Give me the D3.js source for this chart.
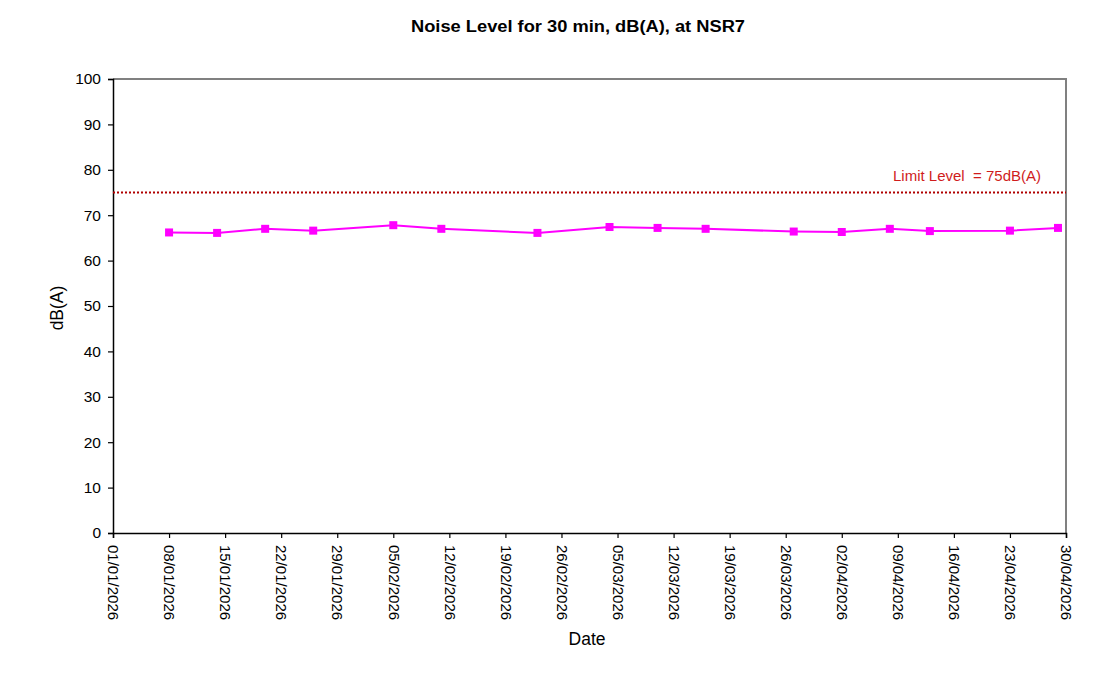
<!DOCTYPE html>
<html>
<head>
<meta charset="utf-8">
<script src="https://cdn.jsdelivr.net/npm/d3@7"></script>
<style>
    body { margin: 0; background: #fff; }
    text { font-family: Arial, "Liberation Sans", sans-serif; fill: #000; }
</style>
</head>
<body>
<script>
const dates = ['2026-01-08', '2026-01-14', '2026-01-20', '2026-01-26', '2026-02-05', '2026-02-11',
    '2026-02-23', '2026-03-04', '2026-03-10', '2026-03-16', '2026-03-27', '2026-04-02',
    '2026-04-08', '2026-04-13', '2026-04-23', '2026-04-29'];
const levels = [66.2, 66.1, 67.0, 66.6, 67.8, 67.0, 66.1, 67.4, 67.2, 67.0, 66.4, 66.3,
    67.0, 66.5, 66.6, 67.2];
const limitLevel = 75;
const xTicks = ['01/01/2026', '08/01/2026', '15/01/2026', '22/01/2026', '29/01/2026', '05/02/2026',
    '12/02/2026', '19/02/2026', '26/02/2026', '05/03/2026', '12/03/2026', '19/03/2026',
    '26/03/2026', '02/04/2026', '09/04/2026', '16/04/2026', '23/04/2026', '30/04/2026'];
const yTicks = [0, 10, 20, 30, 40, 50, 60, 70, 80, 90, 100];

const svgWidth = 1112;
const svgHeight = 678;
const margin = { left: 113, right: 46, top: 79, bottom: 145 };
const width = svgWidth - margin.left - margin.right;
const height = svgHeight - margin.top - margin.bottom;

const parseIso = d3.utcParse('%Y-%m-%d');
const parseTick = d3.utcParse('%d/%m/%Y');

const svg = d3.select('body')
    .append('svg')
    .attr('width', svgWidth)
    .attr('height', svgHeight);

const g = svg.append('g')
    .attr('transform', `translate(${margin.left},${margin.top})`);

const x = d3.scaleUtc()
    .domain([parseTick(xTicks[0]), parseTick(xTicks[xTicks.length - 1])])
    .range([0, width]);
const y = d3.scaleLinear().domain([0, 100]).range([height, 0]);

const data = dates.map((d, i) => ({ date: parseIso(d), value: levels[i] }));

// plot area border (top/right grey)
g.append('path')
    .attr('d', `M0,0H${width}V${height}`)
    .attr('fill', 'none')
    .attr('stroke', '#808080')
    .attr('stroke-width', 2);

// Y axis
const yAxis = g.append('g')
    .call(d3.axisLeft(y).tickValues(yTicks).tickSize(5).tickPadding(7));
yAxis.select('.domain').attr('stroke-width', 1.5);
yAxis.selectAll('.tick line').attr('stroke-width', 1.2);
yAxis.selectAll('text').attr('font-size', 15.5).attr('font-family', 'Arial, "Liberation Sans", sans-serif');

// X axis
const xAxis = g.append('g')
    .attr('transform', `translate(0,${height})`)
    .call(d3.axisBottom(x)
        .tickValues(xTicks.map(parseTick))
        .tickFormat(d3.utcFormat('%d/%m/%Y'))
        .tickSize(5));
xAxis.select('.domain').attr('stroke-width', 1.5);
xAxis.selectAll('.tick line').attr('stroke-width', 1.2);
xAxis.selectAll('text')
    .attr('font-size', 15)
    .attr('font-family', 'Arial, "Liberation Sans", sans-serif')
    .attr('text-anchor', 'start')
    .attr('transform', 'rotate(90)')
    .attr('x', 12)
    .attr('y', 0)
    .attr('dy', '0.35em');

// Limit line
g.append('line')
    .attr('x1', 0)
    .attr('x2', width)
    .attr('y1', y(limitLevel))
    .attr('y2', y(limitLevel))
    .attr('stroke', '#b00000')
    .attr('stroke-width', 2)
    .attr('stroke-dasharray', '2,2');

g.append('text')
    .attr('x', x(parseTick('30/04/2026')) - 25)
    .attr('y', y(limitLevel) - 12)
    .attr('text-anchor', 'end')
    .attr('font-size', 15)
    .style('fill', '#d01c1c')
    .style('white-space', 'pre')
    .text('Limit Level  = 75dB(A)');

// Data line
const line = d3.line()
    .x((d) => x(d.date))
    .y((d) => y(d.value));

g.append('path')
    .datum(data)
    .attr('d', line)
    .attr('fill', 'none')
    .attr('stroke', '#ff00ff')
    .attr('stroke-width', 2);

g.selectAll('rect.marker')
    .data(data)
    .enter()
    .append('rect')
    .attr('class', 'marker')
    .attr('x', (d) => x(d.date) - 4)
    .attr('y', (d) => y(d.value) - 4)
    .attr('width', 8)
    .attr('height', 8)
    .attr('fill', '#ff00ff');

// Title and axis labels
svg.append('text')
    .attr('x', 578)
    .attr('y', 32)
    .attr('text-anchor', 'middle')
    .attr('font-size', 16)
    .attr('font-weight', 'bold')
    .attr('textLength', 334)
    .attr('lengthAdjust', 'spacingAndGlyphs')
    .text('Noise Level for 30 min, dB(A), at NSR7');

svg.append('text')
    .attr('transform', 'translate(63,308) rotate(-90)')
    .attr('text-anchor', 'middle')
    .attr('font-size', 17.5)
    .text('dB(A)');

svg.append('text')
    .attr('x', 587)
    .attr('y', 645)
    .attr('text-anchor', 'middle')
    .attr('font-size', 17.5)
    .text('Date');
</script>
</body>
</html>
